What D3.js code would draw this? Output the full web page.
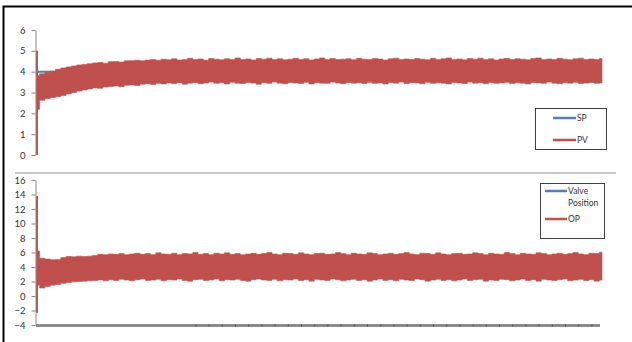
<!DOCTYPE html>
<html>
<head>
<meta charset="utf-8">
<script src="https://cdn.jsdelivr.net/npm/d3@7/dist/d3.min.js"></script>
<style>
  html, body { margin: 0; padding: 0; background: #fff; }
  svg { display: block; }
  text { font-family: Lato, "Liberation Sans", sans-serif; fill: #333; }
</style>
</head>
<body>
<svg id="chart" width="632" height="342"></svg>
<script>
// Loop response over time (seconds), sampled every 10 s as min/max envelopes
const sampleStep = 10;

// Top panel: setpoint and process variable
const spValues = [{ t: 0, v: 4 }, { t: 1070, v: 4 }];
const pvSpike = [0, 5];
const pvHigh = [3.82,3.90,3.96,4.03,4.12,4.18,4.23,4.27,4.32,4.35,
  4.38,4.42,4.44,4.41,4.48,4.49,4.46,4.52,4.53,4.55,
  4.52,4.56,4.58,4.55,4.60,4.57,4.62,4.56,4.59,4.64,
  4.58,4.61,4.55,4.63,4.60,4.57,4.62,4.59,4.66,4.58,
  4.61,4.56,4.63,4.60,4.65,4.58,4.62,4.57,4.60,4.64,
  4.59,4.62,4.56,4.61,4.66,4.59,4.63,4.58,4.60,4.62,
  4.57,4.64,4.60,4.58,4.63,4.61,4.56,4.62,4.65,4.59,
  4.61,4.58,4.63,4.60,4.57,4.64,4.59,4.62,4.66,4.58,
  4.61,4.57,4.63,4.60,4.65,4.59,4.62,4.56,4.61,4.64,
  4.58,4.62,4.60,4.57,4.63,4.66,4.59,4.61,4.58,4.64,
  4.60,4.57,4.62,4.65,4.59,4.61,4.58,4.63];
const pvLow = [2.20,2.63,2.70,2.76,2.80,2.86,2.93,3.00,3.07,3.12,
  3.17,3.22,3.20,3.27,3.29,3.31,3.28,3.35,3.36,3.34,
  3.40,3.42,3.39,3.44,3.41,3.46,3.43,3.47,3.40,3.45,
  3.48,3.42,3.46,3.50,3.44,3.47,3.41,3.49,3.45,3.43,
  3.48,3.46,3.40,3.47,3.44,3.50,3.45,3.42,3.48,3.46,
  3.43,3.49,3.41,3.47,3.45,3.44,3.50,3.46,3.42,3.48,
  3.45,3.47,3.43,3.49,3.44,3.46,3.41,3.48,3.45,3.50,
  3.43,3.47,3.46,3.42,3.49,3.44,3.47,3.45,3.41,3.48,
  3.46,3.43,3.50,3.45,3.47,3.42,3.48,3.44,3.46,3.49,
  3.43,3.47,3.45,3.41,3.48,3.46,3.44,3.50,3.45,3.42,
  3.47,3.45,3.49,3.43,3.46,3.48,3.44,3.46];

// Bottom panel: valve position and controller output
const vpValues = [{ t: 0, v: 4 }, { t: 1070, v: 4 }];
const opSpike = [-2.3, 13.8];
const opHigh = [6.20,5.20,5.10,5.00,5.05,5.30,5.45,5.40,5.50,5.45,
  5.50,5.60,5.75,5.70,5.80,5.75,5.85,5.70,5.80,5.90,
  5.75,5.85,5.70,5.95,5.80,5.75,5.90,5.70,5.85,5.80,
  6.00,5.75,5.85,5.70,5.90,5.80,5.95,5.75,5.85,5.70,
  5.80,5.90,5.75,5.85,6.00,5.80,5.70,5.90,5.85,5.75,
  5.95,5.80,5.70,5.85,5.90,5.75,5.80,6.00,5.85,5.70,
  5.90,5.80,5.75,5.95,5.85,5.70,5.80,5.90,5.75,5.85,
  6.00,5.80,5.70,5.90,5.85,5.75,5.95,5.80,5.70,5.85,
  5.90,5.75,5.80,5.95,5.85,5.70,5.90,5.80,5.75,6.00,
  5.85,5.70,5.90,5.80,5.75,5.95,5.85,5.70,5.80,5.90,
  5.75,5.85,6.00,5.80,5.70,5.90,5.85,6.05];
const opLow = [1.50,1.10,1.30,1.50,1.60,1.75,1.85,1.95,2.00,2.05,
  2.10,2.15,2.20,2.10,2.25,2.15,2.30,2.20,2.10,2.25,
  2.35,2.15,2.20,2.30,2.10,2.25,2.20,2.35,2.15,2.05,
  2.25,2.30,2.15,2.20,2.35,2.10,2.25,2.20,2.30,2.15,
  2.05,2.25,2.35,2.20,2.15,2.30,2.10,2.25,2.20,2.35,
  2.15,2.25,2.05,2.30,2.20,2.15,2.35,2.25,2.10,2.20,
  2.30,2.15,2.25,2.05,2.20,2.35,2.15,2.25,2.10,2.30,
  2.20,2.15,2.35,2.25,2.05,2.20,2.30,2.15,2.25,2.10,
  2.20,2.35,2.15,2.25,2.30,2.05,2.20,2.15,2.30,2.25,
  2.10,2.20,2.35,2.15,2.25,2.05,2.30,2.20,2.15,2.25,
  2.35,2.10,2.20,2.30,2.15,2.25,2.05,2.20];

const topTicks = [0, 1, 2, 3, 4, 5, 6];
const bottomTicks = [-4, -2, 0, 2, 4, 6, 8, 10, 12, 14, 16];
const timeTicks = d3.range(300, 1051, 25);

const topLegend = ["SP", "PV"];
const bottomLegend = [["Valve", "Position"], ["OP"]];

const BLUE = "#4F81BD", RED = "#C0504D", AXIS = "#868686";

const svg = d3.select("#chart");

// frame
svg.append("path")
  .attr("d", "M3.5,342 V6.5 H632")
  .attr("fill", "none").attr("stroke", "#000").attr("stroke-width", 2);

// divider between the two panels
svg.append("line")
  .attr("x1", 15).attr("x2", 616).attr("y1", 173).attr("y2", 173)
  .attr("stroke", "#c8c8c8").attr("stroke-width", 2);

const x = d3.scaleLinear().domain([0, 1070]).range([37, 602]);
const yTop = d3.scaleLinear().domain([0, 6]).range([155, 30]);
const yBot = d3.scaleLinear().domain([-4, 16]).range([325, 180]);

function band(high, low) {
  return high.map((h, i) => ({ t: i * sampleStep, hi: h, lo: low[i] }));
}

function yAxis(scale, ticks) {
  const g = svg.append("g").attr("transform", "translate(35.5,0)")
    .call(d3.axisLeft(scale).tickValues(ticks).tickSize(4).tickSizeOuter(0)
      .tickPadding(6).tickFormat(d3.format("d")));
  g.select(".domain").attr("stroke", AXIS);
  g.selectAll(".tick line").attr("stroke", AXIS);
  g.selectAll(".tick text")
    .style("font-family", "Lato, 'Liberation Sans', sans-serif")
    .style("font-size", "9.5px").attr("fill", "#333");
  return g;
}

function drawPanel(y, flat, spike, high, low) {
  const line = d3.line().x(d => x(d.t)).y(d => y(d.v));
  svg.append("path").datum(flat)
    .attr("d", line).attr("fill", "none")
    .attr("stroke", BLUE).attr("stroke-width", 2);

  const area = d3.area().curve(d3.curveStep)
    .x(d => x(d.t)).y0(d => y(d.lo)).y1(d => y(d.hi));
  svg.append("path").datum(band(high, low))
    .attr("d", area).attr("fill", RED).attr("stroke", RED).attr("stroke-width", 0.6);

  svg.append("line")
    .attr("x1", x(0)).attr("x2", x(0))
    .attr("y1", y(spike[0])).attr("y2", y(spike[1]))
    .attr("stroke", RED).attr("stroke-width", 2);
}

drawPanel(yTop, spValues, pvSpike, pvHigh, pvLow);
drawPanel(yBot, vpValues, opSpike, opHigh, opLow);

yAxis(yTop, topTicks);
yAxis(yBot, bottomTicks);

// time axis along the bottom of the lower panel
const xa = svg.append("g").attr("transform", "translate(0,325.5)")
  .call(d3.axisBottom(x).tickValues(timeTicks).tickSize(3).tickSizeOuter(0).tickFormat(""));
xa.select(".domain").attr("stroke", "#8c8c8c").attr("stroke-width", 3)
  .attr("d", `M${x.range()[0] - 1},0H${x.range()[1] - 2}`);
xa.selectAll(".tick line").attr("stroke", "#555").attr("y1", -1).attr("y2", 1);

// legends
function legend(x0, y0, w, h, items, rows) {
  svg.append("rect").attr("x", x0 + 0.5).attr("y", y0 + 0.5)
    .attr("width", w).attr("height", h)
    .attr("fill", "#fff").attr("stroke", "#404040").attr("stroke-width", 1);
  items.forEach((it, i) => {
    const ly = rows[i];
    svg.append("line").attr("x1", it.lx0).attr("x2", it.lx1)
      .attr("y1", ly).attr("y2", ly)
      .attr("stroke", it.color).attr("stroke-width", 2.5);
    const lines = Array.isArray(it.label) ? it.label : [it.label];
    lines.forEach((s, j) => {
      svg.append("text").attr("x", it.lx1 + 1).attr("y", ly + 3 + j * 12)
        .style("font-size", "8.5px").attr("fill", "#222").text(s);
    });
  });
}

legend(535, 108, 71, 41, [
  { label: topLegend[0], color: BLUE, lx0: 553, lx1: 576 },
  { label: topLegend[1], color: RED, lx0: 553, lx1: 576 }
], [118, 140]);

legend(540, 183, 64, 55, [
  { label: bottomLegend[0], color: BLUE, lx0: 545, lx1: 567 },
  { label: bottomLegend[1], color: RED, lx0: 545, lx1: 567 }
], [191, 219]);
</script>
</body>
</html>
